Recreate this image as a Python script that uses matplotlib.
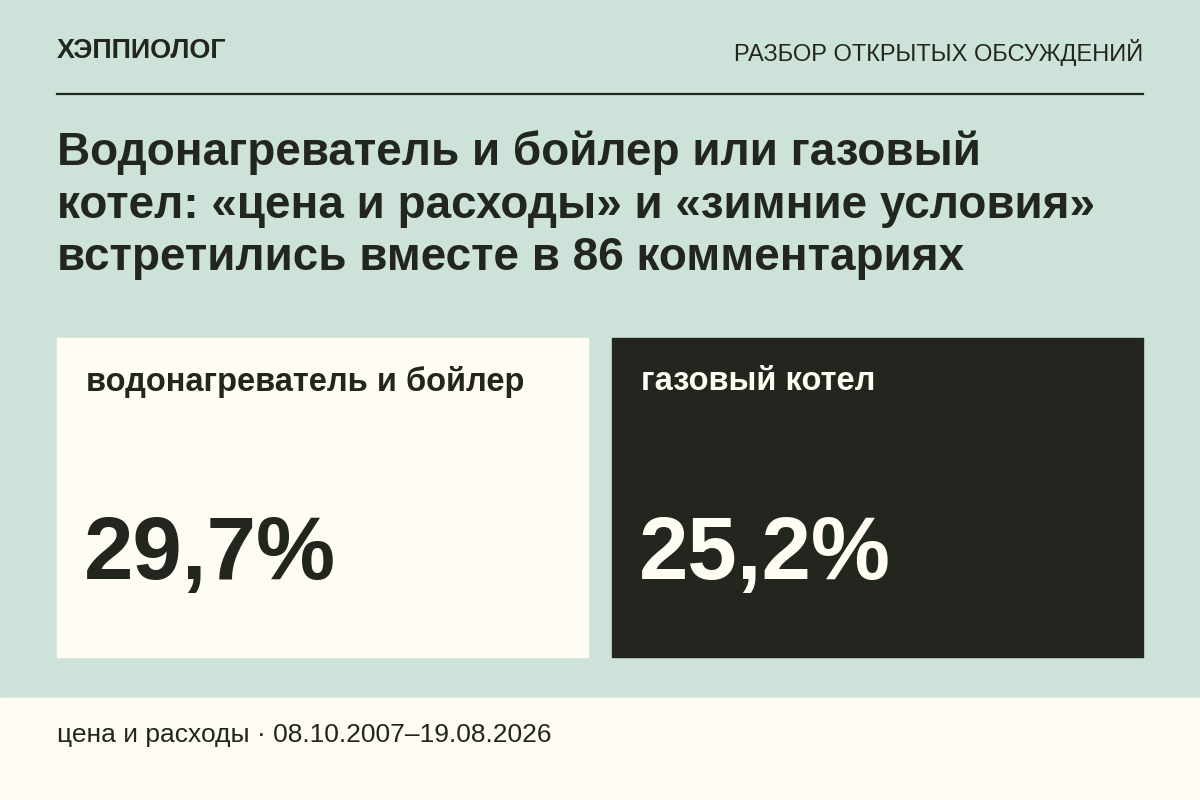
import matplotlib
matplotlib.use("Agg")
import matplotlib.pyplot as plt
from matplotlib.patches import Rectangle
from matplotlib.lines import Line2D

plt.rcParams['font.family'] = ['Liberation Sans', 'DejaVu Sans']

brand = "ХЭППИОЛОГ"
section = "РАЗБОР ОТКРЫТЫХ ОБСУЖДЕНИЙ"
title_lines = ["Водонагреватель и бойлер или газовый",
               "котел: «цена и расходы» и «зимние условия»",
               "встретились вместе в 86 комментариях"]
categories = ["водонагреватель и бойлер", "газовый котел"]
values = [29.7, 25.2]
footer = "цена и расходы · 08.10.2007–19.08.2026"

W, H = 1200, 800
fig = plt.figure(figsize=(12, 8), dpi=100)
fig.patch.set_facecolor("#cde3da")
ax = fig.add_axes([0, 0, 1, 1])
ax.set_xlim(0, W); ax.set_ylim(H, 0); ax.axis("off")

dark = "#22261f"
ax.add_patch(Rectangle((0, 698), W, 102, color="#fdfbf2", zorder=0))
ax.text(57, 51, brand, fontsize=19.4, fontweight="bold", color=dark, va="center")
ax.text(1143, 52, section, fontsize=17, color=dark, va="center", ha="right")
ax.add_line(Line2D([57, 1143], [94, 94], color=dark, lw=1.6))
for i, line in enumerate(title_lines):
    ax.text(57, 153 + 52.5 * i, line, fontsize=33, fontweight="bold", color=dark, va="center")

boxes = [(57, "#fffcf3", dark), (612, dark, "#fffcf3")]
for (x, bg, fg), cat, v in zip(boxes, categories, values):
    ax.add_patch(Rectangle((x, 338), 531, 319, color=bg, zorder=1))
    ax.text(x + 29, 382, cat, fontsize=23.5, fontweight="bold", color=fg, va="center", zorder=2)
    ax.text(x + 27, 556, f"{v:.1f}%".replace(".", ","), fontsize=64, fontweight="bold",
            color=fg, va="center", zorder=2)

ax.text(57, 735, footer, fontsize=19, color=dark, va="center")
fig.savefig("out.png", dpi=100, facecolor=fig.get_facecolor())
